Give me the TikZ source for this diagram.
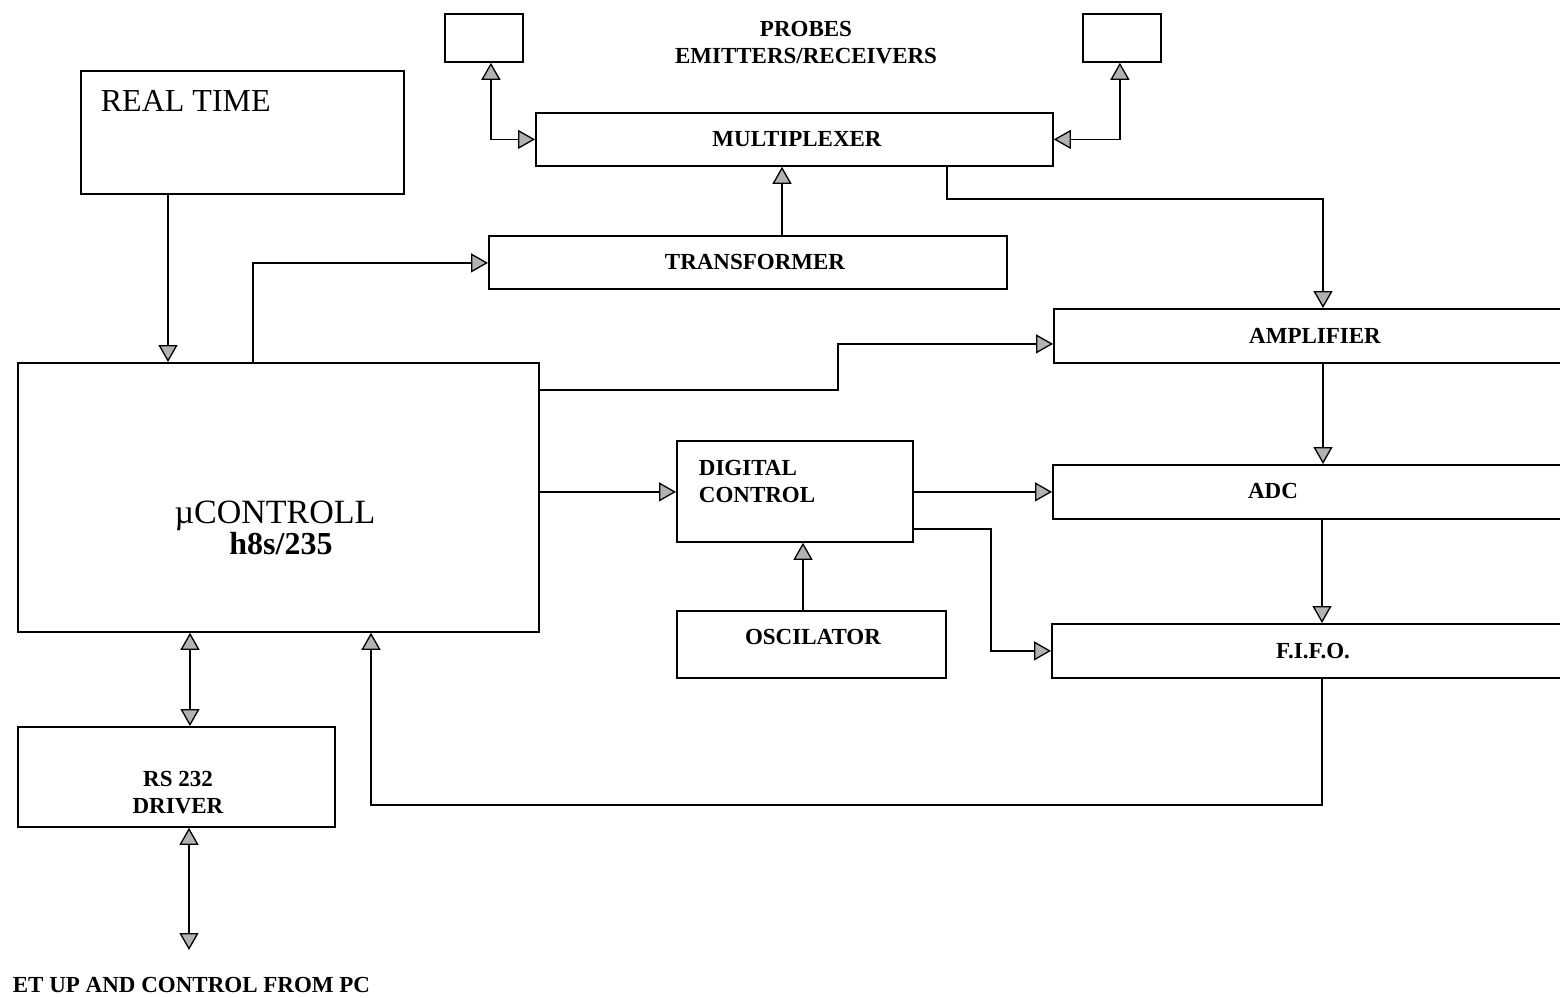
\documentclass[tikz,border=0pt]{standalone}
\usepackage{fontspec}
\setmainfont{Liberation Serif}
\usetikzlibrary{arrows.meta,calc}
\begin{document}
\begin{tikzpicture}[x=1pt,y=-1pt, line width=1.8pt,
  box/.style={draw, rectangle, inner sep=0pt, anchor=north west},
  lab/.style={font=\fontsize{23}{27}\selectfont\bfseries, inner sep=0pt, align=center},
  gt/.tip={Triangle[length=17pt,width=19pt,fill=gray!60,line width=1.3pt]},
  arr/.style={-gt}, darr/.style={gt-gt}]
\useasboundingbox (0,0) rectangle (1560,998);
\clip (0,0) rectangle (1560,998);
% boxes
\node[box, minimum width=78, minimum height=48] (pl) at (444,13) {};
\node[box, minimum width=78, minimum height=48] (pr) at (1082,13) {};
\node[lab] (probes) at (806,43) {PROBES\\EMITTERS/RECEIVERS};
\node[box, minimum width=517, minimum height=53] (mux) at (535,112) {};
\node[lab] (muxt) at (797,139) {MULTIPLEXER};
\node[box, minimum width=323, minimum height=123] (rt) at (80,70) {};
\node[font=\fontsize{32}{36}\selectfont, anchor=west, inner sep=0pt] (rtt) at (100,101) {REAL TIME};
\node[box, minimum width=521, minimum height=269] (uc) at (17,362) {};
\node[font=\fontsize{34}{36}\selectfont, inner sep=0pt] (uct1) at (275,516) {µCONTROLL};
\node[font=\fontsize{32}{34}\selectfont\bfseries, inner sep=0pt] (uct2) at (281,544) {h8s/235};
\node[box, minimum width=518, minimum height=53] (tr) at (488,235) {};
\node[lab] (trt) at (755,262) {TRANSFORMER};
\node[box, minimum width=560, minimum height=54] (amp) at (1053,308) {};
\node[lab] (ampt) at (1315,336) {AMPLIFIER};
\node[box, minimum width=560, minimum height=54] (adc) at (1052,464) {};
\node[lab] (adct) at (1273,491) {ADC};
\node[box, minimum width=560, minimum height=54] (fifo) at (1051,623) {};
\node[lab] (fifot) at (1313,651) {F.I.F.O.};
\node[box, minimum width=236, minimum height=101] (dc) at (676,440) {};
\node[lab, align=left, anchor=west] (dct) at (698,481) {DIGITAL\\CONTROL};
\node[box, minimum width=269, minimum height=67] (osc) at (676,610) {};
\node[lab] (osct) at (813,637) {OSCILATOR};
\node[box, minimum width=317, minimum height=100] (rs) at (17,726) {};
\node[lab] (rst) at (178,793) {RS 232\\DRIVER};
\coordinate (pc) at (189,950);
\node[lab, anchor=west] (pct) at (12,985) {ET UP AND CONTROL FROM PC};
% connectors
\draw[darr] ($(pl.south)+(7,0)$) |- (mux.west);
\draw[darr] ($(pr.south)+(-2,0)$) |- (mux.east);
\draw[arr] ($(rt.south west)+(88,0)$) coordinate (r1) -- (r1 |- uc.north);
\draw[arr] ($(uc.north west)+(236,0)$) |- ($(tr.west)+(0,0.5)$);
\draw[arr] ($(tr.north west)+(294,0)$) coordinate (t1) -- (t1 |- mux.south);
\draw[arr] ($(mux.south west)+(412,0)$) -- ++(0,32) -| ($(amp.north west)+(270,0)$);
\draw[arr] ($(uc.north east)+(0,28)$) -- ++(298,0) |- ($(amp.west)+(0,8)$);
\draw[arr] ($(amp.south west)+(270,0)$) coordinate (a1) -- (a1 |- adc.north);
\draw[arr] ($(uc.east |- dc.west)+(0,0.5)$) -- ($(dc.west)+(0,0.5)$);
\draw[arr] ($(dc.east)+(0,0.5)$) coordinate (d1) -- (d1 -| adc.west);
\draw[arr] ($(dc.south east)+(0,-14)$) -- ++(77,0) |- (fifo.west);
\draw[arr] ($(osc.north west)+(127,0)$) coordinate (o1) -- (o1 |- dc.south);
\draw[arr] ($(adc.south west)+(270,0)$) coordinate (a2) -- (a2 |- fifo.north);
\draw[arr] ($(fifo.south west)+(271,0)$) -- ++(0,126) -| ($(uc.south west)+(354,0)$);
\draw[darr] ($(uc.south west)+(173,0)$) coordinate (u1) -- (u1 |- rs.north);
\draw[darr] (rs.south -| pc) -- (pc);
\end{tikzpicture}
\end{document}
